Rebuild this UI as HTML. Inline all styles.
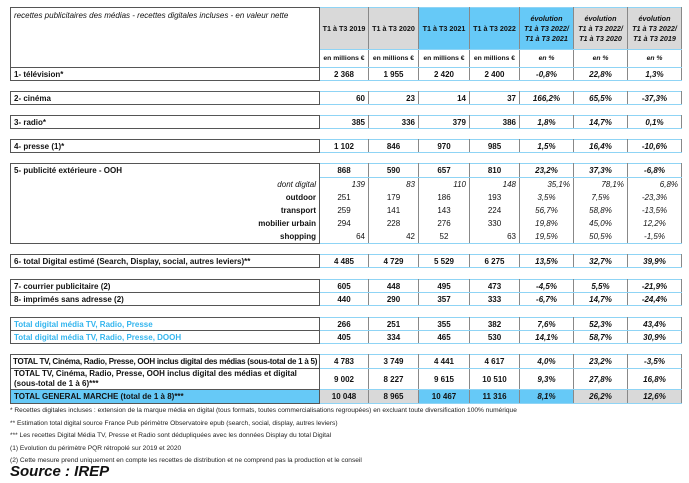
<!DOCTYPE html>
<html><head><meta charset="utf-8"><style>
body{margin:0;width:689px;height:483px;background:#fff;position:relative;overflow:hidden;font-family:"Liberation Sans",sans-serif;color:#111}
table{position:absolute;left:10px;width:671px;border-collapse:collapse;table-layout:fixed;font-size:8px;font-weight:bold}
td{padding:0 3px;white-space:nowrap;overflow:hidden;line-height:11px}
td.l{border:1px solid #555;text-align:left}
td.d{border-left:1px solid #888;border-right:1px solid #888;border-top:1px solid #8fd4f5;border-bottom:1px solid #8fd4f5;text-align:center}
td.p{font-style:italic}
td.h{font-size:7.2px;padding:0 1px}
.g{background:#d9d9d9}.b{background:#66c9f7}
.sub td.l{border-top:none;border-bottom:none;text-align:right}
.i{font-style:italic;font-weight:normal}
.cy td.l{color:#33b5ee}
.foot{position:absolute;left:10px;font-size:6.6px;line-height:12.5px;top:405px;color:#222}
.src{position:absolute;left:10px;top:463px;font-size:15px;font-weight:bold;font-style:italic}
</style></head><body>
<table style="top:7px">
<colgroup><col style="width:309px"><col style="width:49px"><col style="width:50px"><col style="width:51px"><col style="width:50px"><col style="width:54px"><col style="width:54px"><col style="width:54px"></colgroup>
<tr style="height:42px"><td rowspan="2" style="border:1px solid #555;vertical-align:top;font-weight:normal;font-style:italic;padding-top:2px">recettes publicitaires des médias - recettes digitales incluses - en valeur nette</td>
<td class="d g h">T1 à T3 2019</td><td class="d g h">T1 à T3 2020</td><td class="d b h">T1 à T3 2021</td><td class="d b h">T1 à T3 2022</td>
<td class="d b p h" style="line-height:10px">évolution<br>T1 à T3 2022/<br>T1 à T3 2021</td><td class="d g p h" style="line-height:10px">évolution<br>T1 à T3 2022/<br>T1 à T3 2020</td><td class="d g p h" style="line-height:10px">évolution<br>T1 à T3 2022/<br>T1 à T3 2019</td></tr>
<tr style="height:18px"><td class="d h" style="font-size:6.8px">en millions €</td><td class="d h" style="font-size:6.8px">en millions €</td><td class="d h" style="font-size:6.8px">en millions €</td><td class="d h" style="font-size:6.8px">en millions €</td><td class="d p h" style="font-size:6.8px">en %</td><td class="d p h" style="font-size:6.8px">en %</td><td class="d p h" style="font-size:6.8px">en %</td></tr>
<tr style="height:13px"><td class="l">1- télévision*</td><td class="d">2 368</td><td class="d">1 955</td><td class="d">2 420</td><td class="d">2 400</td><td class="d p">-0,8%</td><td class="d p">22,8%</td><td class="d p">1,3%</td></tr>
</table>

<table style="top:91px">
<colgroup><col style="width:309px"><col style="width:49px"><col style="width:50px"><col style="width:51px"><col style="width:50px"><col style="width:54px"><col style="width:54px"><col style="width:54px"></colgroup>
<tr style="height:13px"><td class="l">2- cinéma</td><td class="d" style="text-align:right">60</td><td class="d" style="text-align:right">23</td><td class="d" style="text-align:right">14</td><td class="d" style="text-align:right">37</td><td class="d p">166,2%</td><td class="d p">65,5%</td><td class="d p">-37,3%</td></tr>
</table>
<table style="top:115px">
<colgroup><col style="width:309px"><col style="width:49px"><col style="width:50px"><col style="width:51px"><col style="width:50px"><col style="width:54px"><col style="width:54px"><col style="width:54px"></colgroup>
<tr style="height:13px"><td class="l">3- radio*</td><td class="d" style="text-align:right">385</td><td class="d" style="text-align:right">336</td><td class="d" style="text-align:right">379</td><td class="d" style="text-align:right">386</td><td class="d p">1,8%</td><td class="d p">14,7%</td><td class="d p">0,1%</td></tr>
</table>
<table style="top:139px">
<colgroup><col style="width:309px"><col style="width:49px"><col style="width:50px"><col style="width:51px"><col style="width:50px"><col style="width:54px"><col style="width:54px"><col style="width:54px"></colgroup>
<tr style="height:13px"><td class="l">4- presse (1)*</td><td class="d">1 102</td><td class="d">846</td><td class="d">970</td><td class="d">985</td><td class="d p">1,5%</td><td class="d p">16,4%</td><td class="d p">-10,6%</td></tr>
</table>

<table style="top:163px" class="sub">
<colgroup><col style="width:309px"><col style="width:49px"><col style="width:50px"><col style="width:51px"><col style="width:50px"><col style="width:54px"><col style="width:54px"><col style="width:54px"></colgroup>
<tr style="height:14px"><td class="l" style="border-top:1px solid #555;text-align:left">5- publicité extérieure - OOH</td><td class="d">868</td><td class="d">590</td><td class="d">657</td><td class="d">810</td><td class="d p">23,2%</td><td class="d p">37,3%</td><td class="d p">-6,8%</td></tr>
<tr style="height:13px" class="i"><td class="l">dont digital</td><td class="d" style="text-align:right;border-top:none;border-bottom:none">139</td><td class="d" style="text-align:right;border-top:none;border-bottom:none">83</td><td class="d" style="text-align:right;border-top:none;border-bottom:none">110</td><td class="d" style="text-align:right;border-top:none;border-bottom:none">148</td><td class="d" style="text-align:right;border-top:none;border-bottom:none">35,1%</td><td class="d" style="text-align:right;border-top:none;border-bottom:none">78,1%</td><td class="d" style="text-align:right;border-top:none;border-bottom:none">6,8%</td></tr>
<tr style="height:13px"><td class="l">outdoor</td><td class="d" style="font-weight:normal;border:none;border-left:1px solid #888">251</td><td class="d" style="font-weight:normal;border:none;border-left:1px solid #888">179</td><td class="d" style="font-weight:normal;border:none;border-left:1px solid #888">186</td><td class="d" style="font-weight:normal;border:none;border-left:1px solid #888">193</td><td class="d i" style="border:none;border-left:1px solid #888">3,5%</td><td class="d i" style="border:none;border-left:1px solid #888">7,5%</td><td class="d i" style="border:none;border-left:1px solid #888;border-right:1px solid #888">-23,3%</td></tr>
<tr style="height:13px"><td class="l">transport</td><td class="d" style="font-weight:normal;border:none;border-left:1px solid #888">259</td><td class="d" style="font-weight:normal;border:none;border-left:1px solid #888">141</td><td class="d" style="font-weight:normal;border:none;border-left:1px solid #888">143</td><td class="d" style="font-weight:normal;border:none;border-left:1px solid #888">224</td><td class="d i" style="border:none;border-left:1px solid #888">56,7%</td><td class="d i" style="border:none;border-left:1px solid #888">58,8%</td><td class="d i" style="border:none;border-left:1px solid #888;border-right:1px solid #888">-13,5%</td></tr>
<tr style="height:13px"><td class="l">mobilier urbain</td><td class="d" style="font-weight:normal;border:none;border-left:1px solid #888">294</td><td class="d" style="font-weight:normal;border:none;border-left:1px solid #888">228</td><td class="d" style="font-weight:normal;border:none;border-left:1px solid #888">276</td><td class="d" style="font-weight:normal;border:none;border-left:1px solid #888">330</td><td class="d i" style="border:none;border-left:1px solid #888">19,8%</td><td class="d i" style="border:none;border-left:1px solid #888">45,0%</td><td class="d i" style="border:none;border-left:1px solid #888;border-right:1px solid #888">12,2%</td></tr>
<tr style="height:14px"><td class="l" style="border-bottom:1px solid #555">shopping</td><td class="d" style="font-weight:normal;border-top:none;text-align:right">64</td><td class="d" style="font-weight:normal;border-top:none;text-align:right">42</td><td class="d" style="font-weight:normal;border-top:none">52</td><td class="d" style="font-weight:normal;border-top:none;text-align:right">63</td><td class="d i" style="border-top:none">19,5%</td><td class="d i" style="border-top:none">50,5%</td><td class="d i" style="border-top:none">-1,5%</td></tr>
</table>

<table style="top:254px">
<colgroup><col style="width:309px"><col style="width:49px"><col style="width:50px"><col style="width:51px"><col style="width:50px"><col style="width:54px"><col style="width:54px"><col style="width:54px"></colgroup>
<tr style="height:13px"><td class="l">6- total Digital estimé (Search, Display, social, autres leviers)**</td><td class="d">4 485</td><td class="d">4 729</td><td class="d">5 529</td><td class="d">6 275</td><td class="d p">13,5%</td><td class="d p">32,7%</td><td class="d p">39,9%</td></tr>
</table>
<table style="top:279px">
<colgroup><col style="width:309px"><col style="width:49px"><col style="width:50px"><col style="width:51px"><col style="width:50px"><col style="width:54px"><col style="width:54px"><col style="width:54px"></colgroup>
<tr style="height:13px"><td class="l">7- courrier publicitaire (2)</td><td class="d">605</td><td class="d">448</td><td class="d">495</td><td class="d">473</td><td class="d p">-4,5%</td><td class="d p">5,5%</td><td class="d p">-21,9%</td></tr>
<tr style="height:13px"><td class="l">8- imprimés sans adresse (2)</td><td class="d">440</td><td class="d">290</td><td class="d">357</td><td class="d">333</td><td class="d p">-6,7%</td><td class="d p">14,7%</td><td class="d p">-24,4%</td></tr>
</table>
<table style="top:317px" class="cy">
<colgroup><col style="width:309px"><col style="width:49px"><col style="width:50px"><col style="width:51px"><col style="width:50px"><col style="width:54px"><col style="width:54px"><col style="width:54px"></colgroup>
<tr style="height:13px"><td class="l">Total digital média TV, Radio, Presse</td><td class="d">266</td><td class="d">251</td><td class="d">355</td><td class="d">382</td><td class="d p">7,6%</td><td class="d p">52,3%</td><td class="d p">43,4%</td></tr>
<tr style="height:13px"><td class="l">Total digital média TV, Radio, Presse, DOOH</td><td class="d">405</td><td class="d">334</td><td class="d">465</td><td class="d">530</td><td class="d p">14,1%</td><td class="d p">58,7%</td><td class="d p">30,9%</td></tr>
</table>
<table style="top:354px">
<colgroup><col style="width:309px"><col style="width:49px"><col style="width:50px"><col style="width:51px"><col style="width:50px"><col style="width:54px"><col style="width:54px"><col style="width:54px"></colgroup>
<tr style="height:14px"><td class="l" style="letter-spacing:-0.25px;padding-left:2px">TOTAL TV, Cinéma, Radio, Presse, OOH inclus digital des médias (sous-total de 1 à 5)</td><td class="d">4 783</td><td class="d">3 749</td><td class="d">4 441</td><td class="d">4 617</td><td class="d p">4,0%</td><td class="d p">23,2%</td><td class="d p">-3,5%</td></tr>
<tr style="height:21px"><td class="l" style="line-height:10px">TOTAL TV, Cinéma, Radio, Presse, OOH inclus digital des médias et digital<br>(sous-total de 1 à 6)***</td><td class="d">9 002</td><td class="d">8 227</td><td class="d">9 615</td><td class="d">10 510</td><td class="d p">9,3%</td><td class="d p">27,8%</td><td class="d p">16,8%</td></tr>
<tr style="height:14px"><td class="l b">TOTAL GENERAL MARCHE (total de 1 à 8)***</td><td class="d g">10 048</td><td class="d g">8 965</td><td class="d b">10 467</td><td class="d b">11 316</td><td class="d b p">8,1%</td><td class="d g p">26,2%</td><td class="d g p">12,6%</td></tr>
</table>
<div class="foot">* Recettes digitales incluses : extension de la marque média en digital (tous formats, toutes commercialisations regroupées) en excluant toute diversification 100% numérique<br>** Estimation total digital source France Pub périmètre Observatoire epub (search, social, display, autres leviers)<br>*** Les recettes Digital Média TV, Presse et Radio sont dédupliquées avec les données Display du total Digital<br>(1) Evolution du périmètre PQR rétropolé sur 2019 et 2020<br>(2) Cette mesure prend uniquement en compte les recettes de distribution et ne comprend pas la production et le conseil</div>
<div class="src">Source : IREP</div>
</body></html>
